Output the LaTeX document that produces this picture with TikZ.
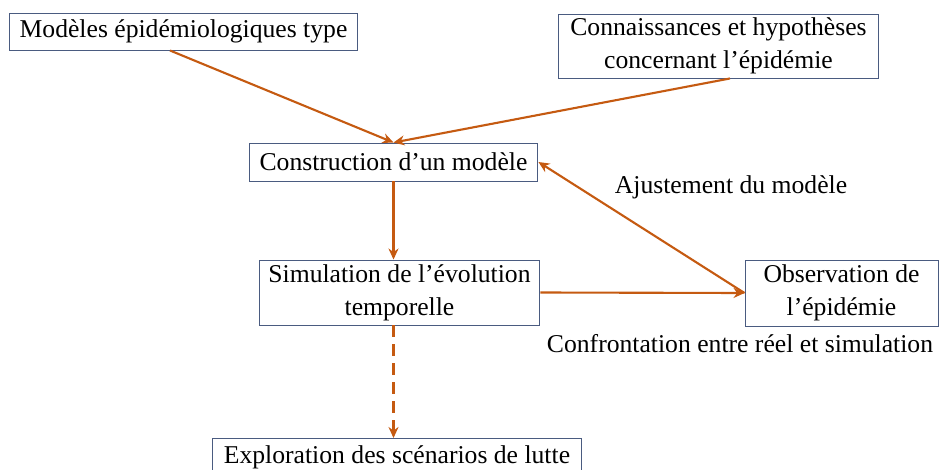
\documentclass[tikz,border=0pt]{standalone}
\usepackage{fontspec}
\setmainfont{Liberation Serif}
\usepackage{tikz}
\usetikzlibrary{arrows.meta,positioning}
\definecolor{epiorange}{HTML}{C55A11}
\definecolor{epiframe}{HTML}{4A5B80}
\tikzset{
  bx/.style={draw=epiframe, fill=white, line width=0.55pt, align=center, inner sep=2pt, font=\fontsize{14.6}{19}\selectfont},
  lbl/.style={font=\fontsize{14.6}{19}\selectfont},
  arr/.style={-{Stealth[length=2.2mm, width=2mm]}, line width=1.2pt, color=epiorange},
  darr/.style={arr, dash pattern=on 0.24cm off 0.14cm},
}
\begin{document}
\begin{tikzpicture}[x=0.02cm, y=-0.02cm]
      \clip (0,0) rectangle (940,470);
      \node[bx, minimum width=6.98cm, minimum height=0.74cm] (types) at (183.5,31.5) {Modèles épidémiologiques type};
      \node[bx, minimum width=6.42cm, minimum height=1.28cm] (hyp) at (718.5,46) {Connaissances et hypothèses\\concernant l’épidémie};
      \node[bx, minimum width=5.78cm, minimum height=0.76cm] (constr) at (393.5,162) {Construction d’un modèle};
      \node[bx, minimum width=5.62cm, minimum height=1.30cm] (simu) at (399.5,292.5) {Simulation de l’évolution\\temporelle};
      \node[bx, minimum width=3.86cm, minimum height=1.32cm] (obs) at (841.5,293) {Observation de\\l’épidémie};
      \node[bx, minimum width=7.40cm, minimum height=0.76cm, anchor=north] (explo) at (397,438) {Exploration des scénarios de lutte};
      \node[lbl] (ajust) at (731,187) {Ajustement du modèle};
      \node[lbl] (confr) at (740,344) {Confrontation entre réel et simulation};
      \draw[arr] ([xshift=-0.27cm]types.south) -- (constr.north);
      \draw[arr] ([xshift=0.23cm]hyp.south) -- (constr.north);
      \draw[arr] (constr.south) -- (simu.north -| constr.south);
      \draw[arr] (simu.east) -- (obs.west);
      \draw[arr] (obs.west) -- (constr.east);
      \draw[darr] (simu.south -| constr.south) -- (explo.north -| constr.south);
    \end{tikzpicture}
\end{document}
